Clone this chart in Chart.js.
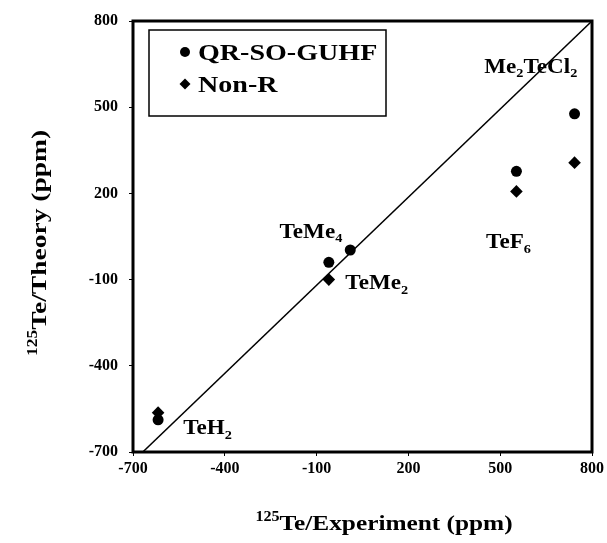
<!DOCTYPE html>
<html>
<head>
<meta charset="utf-8">
<script src="https://cdn.jsdelivr.net/npm/chart.js@4.4.1/dist/chart.umd.min.js"></script>
<style>
  html, body { margin: 0; padding: 0; background: #fff; }
</style>
</head>
<body>
<canvas id="teChart" width="607" height="543"></canvas>
<script>
// 125Te shifts: experiment vs. theory (ppm)
const compounds = ['TeH2', 'TeMe2', 'TeMe4', 'TeF6', 'Me2TeCl2'];
const experiment = [-618, -60, 10, 553, 743];
const qrSoGuhf = [-588, -40, 3, 277, 477];
const nonRel = [-563, -100, null, 207, 307]; // no diamond visible for TeMe4
const tickValues = [-700, -400, -100, 200, 500, 800];
// y = x reference line end points
const diagX = [-668, 800];
const diagY = [-700, 800];

// where the compound names sit (data units, left edge / middle)
const labelAtX = [-536, -6, -221, 454, 448];
const labelAtY = [-613, -110, 70, 34, 645];

const FONT = '"Liberation Serif", "Times New Roman", serif';

function richText(ctx, parts, x, y, size, stretch, align) {
  const fontFor = k => 'bold ' + (k ? Math.round(size * 0.64) : size) + 'px ' + FONT;
  let w = 0;
  parts.forEach(([t, k]) => { ctx.font = fontFor(k); w += ctx.measureText(t).width; });
  ctx.save();
  ctx.translate(x, y);
  ctx.scale(stretch, 1);
  ctx.fillStyle = '#000';
  ctx.textAlign = 'left';
  ctx.textBaseline = 'alphabetic';
  let cx = align === 'center' ? -w / 2 : 0;
  parts.forEach(([t, k]) => {
    ctx.font = fontFor(k);
    const dy = k === 'sub' ? size * 0.22 : (k === 'sup' ? -size * 0.4 : 0);
    ctx.fillText(t, cx, dy);
    cx += ctx.measureText(t).width;
  });
  ctx.restore();
}

// "Me2TeCl2" -> digits as subscripts
function formulaParts(name) {
  return name.match(/\d+|\D+/g).map(s => [s, /\d/.test(s) ? 'sub' : '']);
}

function dot(ctx, x, y, r) {
  ctx.beginPath();
  ctx.arc(x, y, r, 0, Math.PI * 2);
  ctx.fill();
}
function diamond(ctx, x, y, r) {
  ctx.beginPath();
  ctx.moveTo(x, y - r);
  ctx.lineTo(x + r, y);
  ctx.lineTo(x, y + r);
  ctx.lineTo(x - r, y);
  ctx.closePath();
  ctx.fill();
}

const decorations = {
  id: 'decorations',
  afterDraw(chart) {
    const ctx = chart.ctx;
    const a = chart.chartArea;
    const sx = chart.scales.x, sy = chart.scales.y;
    ctx.save();
    // frame
    ctx.strokeStyle = '#000';
    ctx.lineWidth = 3;
    ctx.strokeRect(a.left, a.top, a.right - a.left, a.bottom - a.top);

    // legend box
    ctx.lineWidth = 1.5;
    ctx.strokeRect(149, 30, 237, 86);
    ctx.fillStyle = '#000';
    dot(ctx, 185, 52, 5);
    diamond(ctx, 185, 84, 5.5);
    richText(ctx, [['QR-SO-GUHF', '']], 198, 60, 23, 1.22, 'left');
    richText(ctx, [['Non-R', '']], 198, 92, 23, 1.22, 'left');

    // compound names
    compounds.forEach((name, i) => {
      const px = sx.getPixelForValue(labelAtX[i]);
      const py = sy.getPixelForValue(labelAtY[i]);
      richText(ctx, formulaParts(name), px, py + 7, 21, 1.1, 'left');
    });

    // axis titles
    richText(ctx, [['125', 'sup'], ['Te/Experiment (ppm)', '']], 384, 530, 22, 1.15, 'center');
    ctx.translate(46, 243);
    ctx.rotate(-Math.PI / 2);
    richText(ctx, [['125', 'sup'], ['Te/Theory (ppm)', '']], 0, 0, 22, 1.25, 'center');
    ctx.restore();
  }
};

const tickFont = { family: FONT, size: 16, weight: 'bold' };

new Chart(document.getElementById('teChart'), {
  type: 'scatter',
  data: {
    datasets: [
      {
        label: 'QR-SO-GUHF',
        data: experiment.map((x, i) => ({ x: x, y: qrSoGuhf[i] })),
        pointStyle: 'circle',
        pointRadius: 5.5,
        backgroundColor: '#000',
        borderColor: '#000',
        borderWidth: 0,
        order: 1
      },
      {
        label: 'Non-R',
        data: experiment.map((x, i) => ({ x: x, y: nonRel[i] })),
        pointStyle: 'rectRot',
        pointRadius: 6.3,
        backgroundColor: '#000',
        borderColor: '#000',
        borderWidth: 0,
        order: 2
      },
      {
        label: 'y = x',
        data: diagX.map((x, i) => ({ x: x, y: diagY[i] })),
        showLine: true,
        borderColor: '#000',
        borderWidth: 1.5,
        pointRadius: 0,
        order: 3
      }
    ]
  },
  options: {
    responsive: false,
    animation: false,
    layout: { padding: { top: 21, right: 15, left: 0, bottom: 0 } },
    plugins: {
      legend: { display: false },
      tooltip: { enabled: false }
    },
    scales: {
      x: {
        type: 'linear',
        min: -700,
        max: 800,
        afterBuildTicks: s => { s.ticks = tickValues.map(v => ({ value: v })); },
        afterFit: s => { s.height = 91; },
        grid: { drawOnChartArea: false, tickLength: 4, color: '#000', lineWidth: 1 },
        border: { display: false },
        ticks: { font: tickFont, color: '#000', padding: 3, maxRotation: 0 }
      },
      y: {
        type: 'linear',
        min: -700,
        max: 800,
        afterBuildTicks: s => { s.ticks = tickValues.map(v => ({ value: v })); },
        afterFit: s => { s.width = 133; },
        grid: { drawOnChartArea: false, tickLength: 4, color: '#000', lineWidth: 1 },
        border: { display: false },
        ticks: { font: tickFont, color: '#000', padding: 11 }
      }
    }
  },
  plugins: [decorations]
});
</script>
</body>
</html>
